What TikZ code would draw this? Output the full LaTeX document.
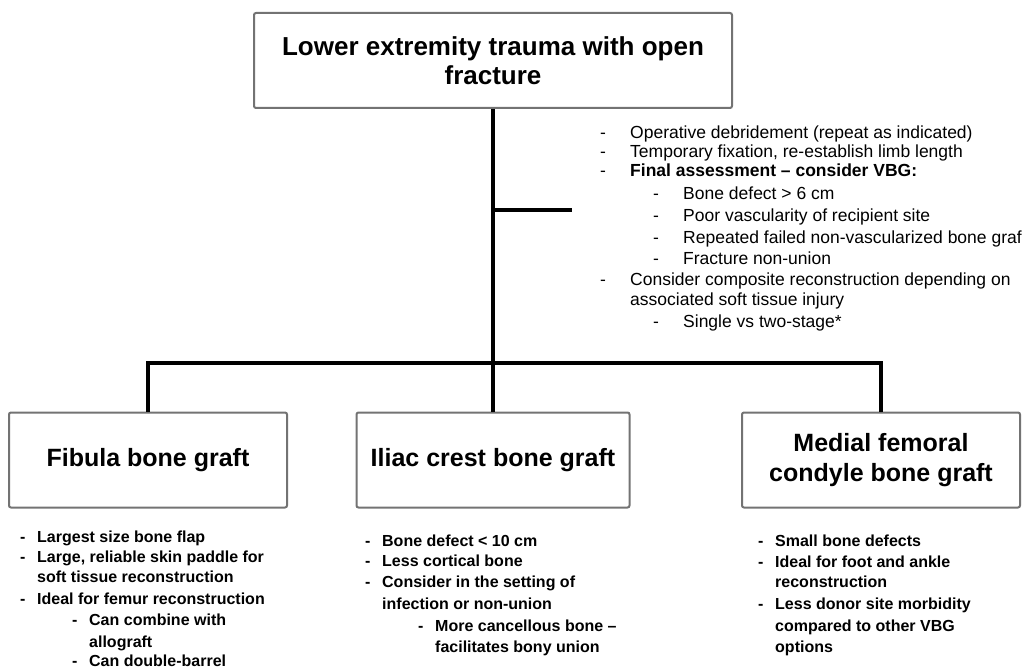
\documentclass[tikz,border=0pt]{standalone}
\usepackage{fontspec}
\setmainfont{Liberation Sans}
\usetikzlibrary{positioning}

\tikzset{
  graftbox/.style={draw=black!55, line width=2pt, rounded corners=2pt, fill=white,
    align=center, minimum height=95pt, font=\fontsize{25}{30}\selectfont\bfseries},
  conn/.style={line width=3.2pt, black},
  note/.style={anchor=base west, inner sep=0pt, font=\fontsize{17.5}{20}\selectfont},
  pro/.style={anchor=base west, inner sep=0pt, font=\fontsize{16}{20}\selectfont\bfseries},
}
\newcommand{\notedash}{\makebox[30pt][l]{-}}
\newcommand{\prodash}{\makebox[17pt][l]{-}}

\begin{document}
\begin{tikzpicture}[x=1pt, y=-1pt]
\useasboundingbox (0,0) rectangle (1027,671);

%% Caixas
\node[graftbox, minimum width=478pt, font=\fontsize{26}{29}\selectfont\bfseries] (trauma) at (493,60.5)
  {Lower extremity trauma with open\\fracture};
\node[graftbox, minimum width=278pt] (fibula) at (148,460) {Fibula bone graft};
\node[graftbox, minimum width=273pt] (iliac) at (493,460) {Iliac crest bone graft};
\node[graftbox, minimum width=278pt] (condyle) at (881,460) {Medial femoral\\condyle bone graft};

%% Ligacoes
\coordinate (bar) at (493,363);
\coordinate (notes) at (572,210);
\draw[conn] (trauma) -- (iliac);
\draw[conn] (fibula) |- (bar) -| (condyle);
\draw[conn] (trauma |- notes) -- (notes);

%% Notas ao lado
\foreach \x/\y/\txt [count=\i] in {
  600/139/{\notedash Operative debridement (repeat as indicated)},
  600/158/{\notedash Temporary fixation, re-establish limb length},
  600/177/{\notedash\textbf{Final assessment – consider VBG:}},
  653/200/{\notedash Bone defect > 6 cm},
  653/221/{\notedash Poor vascularity of recipient site},
  653/243/{\notedash Repeated failed non-vascularized bone graf},
  653/264/{\notedash Fracture non-union},
  600/285/{\notedash Consider composite reconstruction depending on},
  630/305/{associated soft tissue injury},
  653/327/{\notedash Single vs two-stage*}}
  \node[note] (n\i) at (\x,\y) {\txt};

%% Fibula
\foreach \x/\y/\txt [count=\i] in {
  20/542/{\prodash Largest size bone flap},
  20/562/{\prodash Large, reliable skin paddle for},
  37/582/{soft tissue reconstruction},
  20/604/{\prodash Ideal for femur reconstruction},
  72/625/{\prodash Can combine with},
  89/647/{allograft},
  72/666/{\prodash Can double-barrel}}
  \node[pro] (f\i) at (\x,\y) {\txt};

%% Iliaca
\foreach \x/\y/\txt [count=\i] in {
  365/546/{\prodash Bone defect < 10 cm},
  365/566/{\prodash Less cortical bone},
  365/587/{\prodash Consider in the setting of},
  382/609/{infection or non-union},
  418/631/{\prodash More cancellous bone –},
  435/652/{facilitates bony union}}
  \node[pro] (i\i) at (\x,\y) {\txt};

%% Condilo
\foreach \x/\y/\txt [count=\i] in {
  758/546/{\prodash Small bone defects},
  758/567/{\prodash Ideal for foot and ankle},
  775/587/{reconstruction},
  758/609/{\prodash Less donor site morbidity},
  775/631/{compared to other VBG},
  775/652/{options}}
  \node[pro] (c\i) at (\x,\y) {\txt};
\end{tikzpicture}
\end{document}
